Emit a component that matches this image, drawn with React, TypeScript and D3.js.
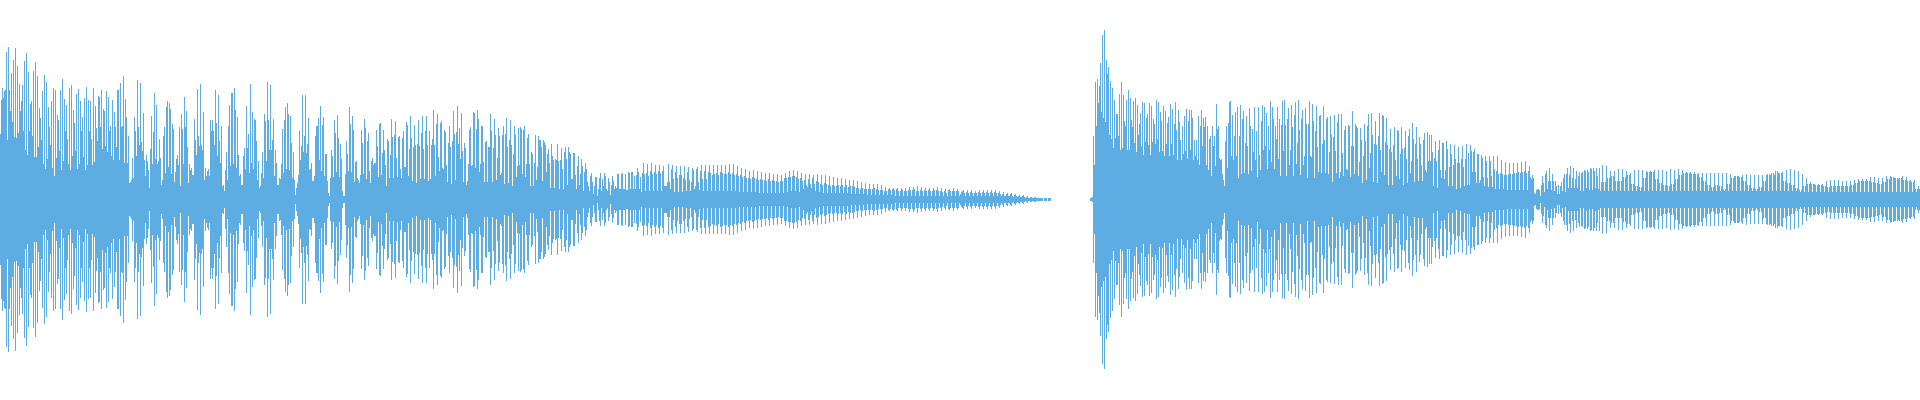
import React, { useEffect } from 'react';
import * as d3 from 'd3';

// peak level of each pixel column (half height in px)
const peaksFrom0 = [
  65,99,111,101,108,109,147,59,152,109,88,126,77,139,62,151,61,133,66,115,88,98,114,68,138,49,146,44,127,68,95,98,63,128,42,137,42,123,52,91,
  81,59,108,35,124,30,117,40,92,72,54,98,31,111,23,109,41,84,79,48,109,29,120,38,100,68,94,60,35,111,29,114,43,89,76,48,105,30,110,35,
  98,68,82,42,101,29,112,34,99,68,98,60,34,111,37,93,71,58,103,102,72,109,50,90,88,53,108,47,102,68,73,43,99,39,87,72,52,109,109,39,
  116,72,73,123,36,100,82,36,63,16,17,19,41,21,82,68,43,119,72,54,116,57,48,86,39,23,44,38,29,11,50,83,35,67,106,40,94,35,38,60,
  41,14,19,63,72,26,92,98,32,96,90,25,75,70,17,27,40,44,34,72,13,85,70,35,102,72,88,52,16,35,29,31,24,24,80,59,44,110,63,53,
  115,54,49,87,19,31,23,28,30,23,79,68,
];
const peaksFrom212 = [
  79,68,54,109,76,43,104,58,36,73,13,14,8,29,47,19,73,94,33,106,106,35,111,89,31,82,44,23,25,14,14,43,51,30,93,51,65,26,115,36,
  87,30,80,79,58,19,38,11,13,26,47,21,85,78,38,117,79,49,114,49,59,80,23,49,36,14,14,21,20,35,70,26,79,92,30,96,85,29,83,56,
  21,47,19,4,11,16,24,68,39,53,104,47,63,104,46,55,81,29,30,36,18,18,23,63,73,73,81,39,
];
const peaksFrom320 = [
  93,28,74,82,23,45,45,18,6,3,21,49,43,22,79,66,27,84,61,22,55,40,8,3,3,25,58,45,28,92,75,27,83,69,17,37,38,21,19,16,
  24,69,56,25,80,71,20,58,66,28,16,38,41,34,36,36,69,53,22,75,76,24,46,69,49,34,13,60,58,21,44,80,62,21,64,78,41,22,62,63,
  30,21,61,68,32,32,77,74,23,50,83,61,18,52,74,54,16,55,79,53,20,66,83,50,20,68,83,54,18,68,20,54,60,89,54,23,75,85,42,28,
  76,78,31,30,69,67,34,17,56,73,52,15,58,88,65,19,67,93,55,71,40,86,48,17,56,51,14,18,35,69,72,33,34,87,86,31,70,89,80,27,
  35,73,73,37,17,57,58,17,52,52,85,68,17,51,80,64,19,41,71,63,24,26,64,73,15,65,81,52,16,59,79,54,13,45,73,64,22,33,71,34,
  72,70,25,69,73,22,35,61,65,35,13,47,45,13,36,64,19,32,63,59,59,52,18,59,57,54,27,45,50,36,11,55,43,39,11,40,39,55,38,10,
  39,51,30,10,47,52,40,14,52,47,45,20,20,46,46,24,10,33,43,14,25,40,33,8,27,36,30,17,13,8,23,26,17,5,13,22,22,3,10,21,
  26,8,20,13,26,23,10,8,21,17,4,14,23,18,10,13,11,25,25,10,10,25,26,10,10,25,9,9,27,26,10,27,27,10,23,10,24,31,
  27,10,25,24,10,26,
];
const peaksFrom640 = [
  22,7,26,36, 25,8,26,35, 23,8,28,36, 25,8,27,34, 25,8,28,34, 26,8,28,33, 13,13,13,17,35,
  17,10,30,34, 20,7,27,33, 21,7,24,33, 24,7,21,33, 19,8,27,32, 19,8,17,31, 29,10,13,30,32,
  17,9,28,34, 20,8,28,34, 20,8,27,34, 26,8,24,34, 25,8,26,34, 24,8,27,34, 26,8,25,34, 25,8,27,35,
  25,8,26,35, 24,8,25,33, 23,7,24,31, 22,7,23,30, 21,7,21,28, 20,7,22,29, 21,7,20,28, 19,6,20,27,
  19,6,19,26, 18,6,20,26, 18,6,19,25, 18,6,18,25, 17,6,18,24, 18,6,21,26, 21,7,22,28, 22,8,23,29,
  23,8,22,28, 20,7,21,26, 18,10,19,25, 14,12,20,25, 15,11,21,24, 15,8,18,25, 17,7,15,24, 14,6,16,24,
  15,6,14,23, 13,6,14,22, 13,6,13,21, 14,6,13,21, 14,6,12,20, 14,6,12,19, 13,5,13,19, 12,5,11,18,
  11,5,10,17, 11,5,10,16, 10,4,10,15, 10,4,10,15, 11,4,10,15, 9,4,9,14, 9,4,8,12, 8,4,10,11,
  9,4,10,11, 9,3,10,11, 8,3,8,11, 9,3,8,11, 8,3,9,12, 9,3,9,12, 10,3,8,13, 8,3,9,12,
  8,3,9,11, 8,3,9,11, 8,3,8,11, 9,3,9,12, 8,3,8,11, 7,3,8,10, 6,3,9,10, 8,3,8,11, 8,3,8,10,
  8,3,8,11, 8,3,8,10,
];
const peaksFrom960 = [
  5,7,8,9, 6,3,7,9, 6,3,7,9, 6,3,6,8, 6,3,7,9, 6,3,7,9, 6,3,7,9, 6,3,7,9, 6,3,7,9, 6,3,6,8,
  5,3,5,7, 3,3,5,6, 3,3,5,6, 3,2,4,5, 3,2,3,4, 2,2,3,4, 2,1,2,3, 1,1,2,2, 1,1,2,2, 1,1,1,1,
  1,1,1,0, 1,1,1,0, 1,1,1,0, 0,0,
];
const startBlip = [1, 1, 2];
const peaksFrom1093 = [
  63,34,117,73,120,96,113,136,87,164,81,169,77,139,125,132,64,118,60,111,51,99,61,85,85,63,105,49,117,51,104,78,73,99,49,109,49,101,79,72,
  98,56,101,47,94,64,75,86,53,97,44,96,57,81,85,54,96,44,93,57,80,75,55,99,60,97,47,87,78,48,93,43,88,55,76,82,43,95,55,90,
  44,75,97,69,39,89,77,59,39,73,45,83,48,90,40,78,89,49,89,81,39,59,43,59,39,83,34,73,89,53,81,72,82,34,73,29,60,63,23,73,
  53,63,33,95,70,73,41,39,40,25,19,13,58,73,31,76,97,98,43,84,39,63,87,43,92,21,63,94,25,80,88,26,56,83,53,25,91,73,28,70,
  47,92,39,68,22,92,44,29,78,94,49,92,53,86,30,73,49,98,37,92,80,30,73,60,92,40,80,80,40,
];
const peaksFrom1280 = [
  23,74,98,48,99,74,23,80,91,34,49,94,72,23,84,97,35,56,99,69,24,80,89,34,43,91,75,21,75,98,43,42,95,78,21,68,93,52,27,83,
  84,26,55,93,59,26,80,82,25,47,83,64,17,62,84,48,26,77,85,21,27,85,46,23,69,73,30,29,74,73,22,53,88,53,25,75,73,71,23,37,
  71,59,16,43,75,58,19,73,85,31,46,86,64,17,55,78,54,16,63,86,49,27,84,83,24,57,81,54,14,50,70,47,14,54,72,39,23,69,68,20,
  45,72,50,14,51,68,40,16,63,70,26,38,76,60,17,55,72,40,18,62,55,34,18,59,66,29,27,67,38,64,38,64,47,13,41,58,38,11,49,59,
  29,21,56,56,20,29,58,50,13,32,55,45,13,34,54,40,10,36,52,36,11,40,53,32,13,40,55,14,46,14,54,48,27,47,50,27,16,45,45,16,
  19,44,41,22,13,43,38,21,12,43,38,23,12,43,30,10,28,43,25,10,26,39,25,10,24,37,24,9,25,36,25,9,25,36,26,9,26,36,27,9,
  26,37,27,9,28,38,26,9,28,33,22,20,24,21,6,5,9,10,10,9,3,14,23,16,7,25,28,10,18,31,18,9,25,18,8,18,13,5,14,5,
  13,17,8,21,25,7,25,31,11,24,33,11,21,31,11,20,28,11,23,27,8,26,27,8,29,28,11,29,27,9,31,30,9,31,28,11,31,23,10,31,
  19,14,32,
];
const peaksFrom1600 = [
  8,17,34,17, 8,17,33,21, 8,21,28,23, 8,23,28,18, 8,18,30,18, 8,18,30,22, 8,22,28,24, 8,24,26,15,
  8,15,29,13, 8,13,29,12, 8,12,29,21, 8,21,28,27, 8,27,28,27, 8,27,29,20, 8,20,29,16, 8,16,29,14,
  8,14,28,13, 8,13,30,15, 8,15,29,20, 8,20,30,24, 8,24,29,26, 8,26,27,26, 8,26,27,25, 8,25,27,25,
  8,25,26,22, 8,22,26,18, 8,18,26,14, 8,14,26,12, 8,12,26,14, 8,14,26,13, 8,13,26,10, 8,10,26,15,
  8,15,25,21, 8,21,23,23, 8,23,23,22, 8,22,24,18, 8,18,25,14, 8,14,24,11, 8,11,24,10, 8,10,24,12,
  8,12,24,18, 8,18,24,25, 8,25,24,26, 8,26,24,28, 8,28,26,26, 8,26,27,18, 8,18,29,16, 8,16,30,14,
  8,14,29,11, 8,11,28,9, 7,9,25,13, 7,13,21,15, 7,15,17,15, 7,15,15,14, 7,14,15,14, 7,14,15,13,
  7,13,18,12, 7,12,19,13, 7,13,19,13, 7,13,19,13, 7,13,18,13, 7,13,18,13, 7,13,18,14, 7,14,19,16,
  7,16,20,18, 7,18,20,18, 7,18,20,18, 7,18,22,17, 7,17,22,16, 7,16,21,15, 7,15,21,17, 7,17,23,20,
  7,20,23,22, 7,22,21,21, 7,21,20,21, 7,21,23,19, 7,19,22,18, 7,18,19,17, 7,17,19,10, 7,10,13,10,
];

const chunks: [number, number[]][] = [
  [0, peaksFrom0],
  [212, peaksFrom212],
  [320, peaksFrom320],
  [640, peaksFrom640],
  [960, peaksFrom960],
  [1090, startBlip],
  [1093, peaksFrom1093],
  [1280, peaksFrom1280],
  [1600, peaksFrom1600],
];

const COLUMNS = 1920;
const peaks: number[] = new Array(COLUMNS).fill(0);
chunks.forEach(([start, values]) => {
  values.forEach((v, i) => {
    if (start + i < COLUMNS) peaks[start + i] = v;
  });
});

const App: React.FC = () => {
  const width = 1920;
  const height = 400;

  useEffect(() => {
    document.body.style.margin = '0';
  }, []);

  const x = d3.scaleLinear().domain([0, COLUMNS]).range([0, width]);
  const y = d3.scaleLinear().domain([-200, 200]).range([399.5, -0.5]);

  return (
    <svg width={width} height={height} style={{ display: 'block', position: 'absolute', left: 0, top: 0 }} shapeRendering="crispEdges">
      {peaks.map((p, i) =>
        p > 0 ? (
          <rect key={i} x={x(i)} y={y(p + 0.5)} width={1} height={y(-p - 0.5) - y(p + 0.5)} fill="#5dade2" />
        ) : null
      )}
    </svg>
  );
};

export default App;
